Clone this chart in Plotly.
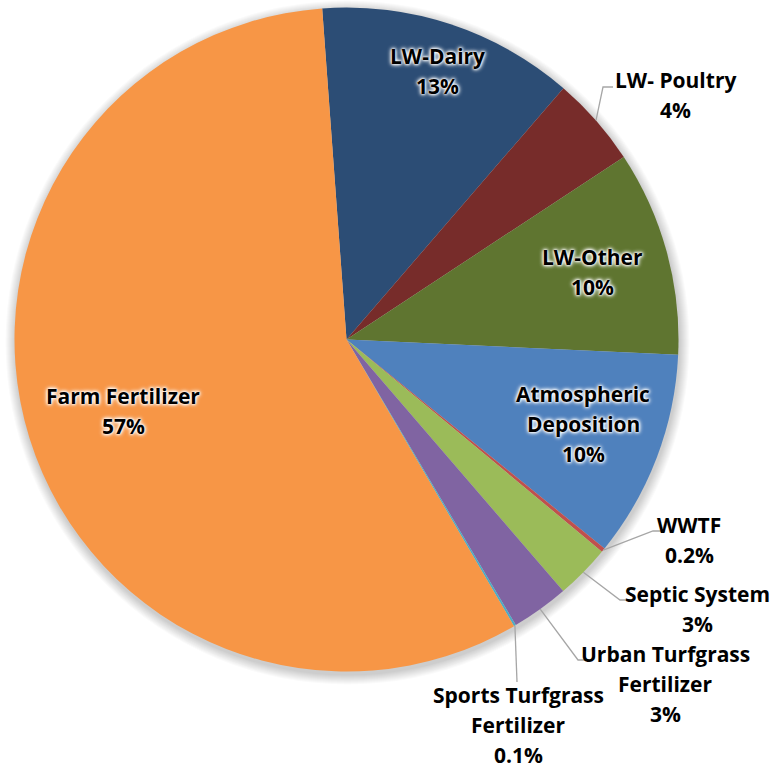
import math
import plotly.graph_objects as go

# ---- data ----
labels = ["LW-Dairy", "LW- Poultry", "LW-Other", "Atmospheric Deposition", "WWTF",
          "Septic System", "Urban Turfgrass Fertilizer", "Sports Turfgrass Fertilizer",
          "Farm Fertilizer"]
values = [12.5, 4.4, 10.0, 10.1, 0.2, 2.65, 2.8, 0.1, 57.25]
pct_text = ["13%", "4%", "10%", "10%", "0.2%", "3%", "3%", "0.1%", "57%"]
label_lines = [["LW-Dairy"], ["LW- Poultry"], ["LW-Other"], ["Atmospheric", "Deposition"],
               ["WWTF"], ["Septic System"], ["Urban Turfgrass", "Fertilizer"],
               ["Sports Turfgrass", "Fertilizer"], ["Farm Fertilizer"]]
colors = ["#2C4D75", "#772C2A", "#5F7530", "#4F81BD", "#C0504D",
          "#9BBB59", "#8064A2", "#4BACC6", "#F79646"]

W, H = 776, 774
ROT = -4.2
# pie box in pixels
px0, px1, py0, py1 = 14.5, 678.5, 7, 672
cx, cy = (px0 + px1) / 2, (py0 + py1) / 2
R = min(px1 - px0, py1 - py0) / 2

# label placement (pixel block centres), inside flag, leader elbow
label_pos = [(437, 71), (675, 95), (592, 272), (583, 424), (689, 540),
             (697, 609), (665, 684), (518, 725), (123, 411)]
inside = [True, False, True, True, False, False, False, False, True]
elbows = [None, [(603, 87), (613, 87)], None, None,
          [(653, 531), (665, 531)], [(620, 600), (630, 600)],
          [(578, 660), (588, 660)], [(517, 682)], None]

fig = go.Figure(go.Pie(
    labels=labels, values=values, sort=False, direction="clockwise",
    rotation=ROT, textinfo="none", hoverinfo="label+percent",
    marker=dict(colors=colors, line=dict(width=0)),
    domain=dict(x=[px0 / W, px1 / W], y=[1 - py1 / H, 1 - py0 / H]),
    showlegend=False,
))

def P(x, y):
    return x / W, 1 - y / H

annotations = []
shapes = []

# soft drop shadow behind the pie
for k in range(10, 0, -1):
    rr = R + k
    x0, y0 = P(cx - rr + 1, cy - rr + 3)
    x1, y1 = P(cx + rr + 1, cy + rr + 3)
    shapes.append(dict(type="circle", xref="paper", yref="paper", layer="below",
                       x0=x0, y0=y1, x1=x1, y1=y0, line=dict(width=0),
                       fillcolor="rgba(0,0,0,0.018)"))

total = sum(values)
acc = 0.0
LINE = 30
for i, v in enumerate(values):
    a0 = ROT + acc / total * 360
    acc += v
    a1 = ROT + acc / total * 360
    mid = math.radians((a0 + a1) / 2)
    lines = label_lines[i] + [pct_text[i]]
    bx, by = label_pos[i]
    n = len(lines)
    for k, t in enumerate(lines):
        x, y = P(bx, by + (k - (n - 1) / 2) * LINE)
        font = dict(family="Open Sans", size=21, color="#000000", weight="bold")
        if inside[i]:
            font["shadow"] = ("0 0 2px #ffffff, 0 0 3px #ffffff, 0 0 4px #ffffff, "
                              "0 0 5px #ffffff")
        annotations.append(dict(x=x, y=y, xref="paper", yref="paper", text=t,
                                showarrow=False, xanchor="center", yanchor="middle",
                                font=font))
    if elbows[i]:
        sx = cx + R * math.sin(mid)
        sy = cy - R * math.cos(mid)
        pts = [(sx, sy)] + elbows[i]
        path = "M " + " L ".join(f"{p[0] / W},{1 - p[1] / H}" for p in pts)
        shapes.append(dict(type="path", xref="paper", yref="paper", path=path,
                           line=dict(color="#A6A6A6", width=1.3)))

fig.update_layout(
    width=W, height=H, margin=dict(l=0, r=0, t=0, b=0),
    paper_bgcolor="white", plot_bgcolor="white",
    annotations=annotations, shapes=shapes,
)
fig.write_html("out.html")
